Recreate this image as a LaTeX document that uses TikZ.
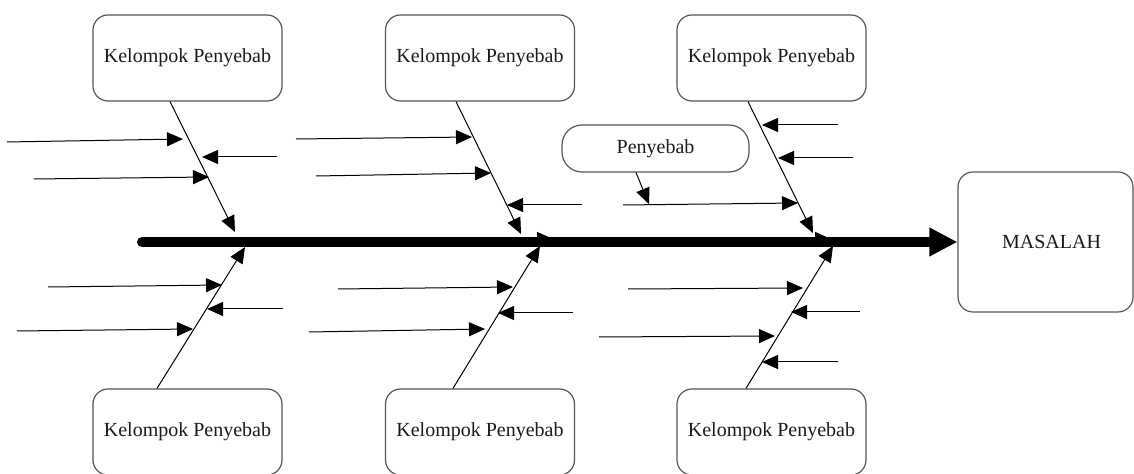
\documentclass[tikz,border=0pt]{standalone}
\usepackage{fontspec}
\setmainfont{Liberation Serif}
\usetikzlibrary{arrows.meta,calc}
\definecolor{boxgray}{HTML}{555555}
\definecolor{textgray}{HTML}{1A1A1A}
\begin{document}
\begin{tikzpicture}[x=0.5pt,y=-0.5pt,
  box/.style={draw=boxgray, line width=0.6pt, rounded corners=7.5pt, minimum width=94.5pt, minimum height=43pt, inner sep=0pt, font=\fontsize{10}{12}\selectfont, text=textgray},
  bone/.style={line width=0.5pt, -{Triangle[length=8pt,width=7pt]}},
  arr/.style={line width=0.5pt, -{Triangle[length=8pt,width=7pt]}},
  spine/.style={line width=5pt, line cap=round, -{Triangle[length=14pt,width=13.5pt]}}]
\useasboundingbox (0,0) rectangle (1134,474);

% boxes
\node[box] (k1) at (187.5,58) {Kelompok Penyebab};
\node[box] (k2) at (480,58) {Kelompok Penyebab};
\node[box] (k3) at (771.5,58) {Kelompok Penyebab};
\node[box] (k4) at (187.5,432) {Kelompok Penyebab};
\node[box] (k5) at (480,432) {Kelompok Penyebab};
\node[box] (k6) at (771.5,432) {Kelompok Penyebab};
\node[box, minimum width=87.5pt, minimum height=70pt] (mas) at (1045.5,242) {\hspace*{6pt}MASALAH};
\node[box, minimum width=93.5pt, minimum height=23.5pt, rounded corners=10pt] (pen) at (655.5,148.5) {Penyebab};

% spine tips
\coordinate (s1) at (235,232);
\coordinate (s2) at (521,234);
\coordinate (s3) at (813,233);
\coordinate (s4) at (245,247);
\coordinate (s5) at (540,246);
\coordinate (s6) at (833,246);
\coordinate (spL) at (142,242);

% small arrowheads riding on the spine
\draw[arr] (520,239) -- (553,239);
\draw[arr] (800,239) -- (831,239);

% spine
\draw[spine] (spL) -- (mas.west);

% bones
\draw[bone] ($(k1.south)+(-17.5,0)$) -- (s1);
\draw[bone] ($(k2.south)+(-24,0)$) -- (s2);
\draw[bone] ($(k3.south)+(-23.5,0)$) -- (s3);
\draw[bone] ($(k4.north)+(-30.5,0)$) -- (s4);
\draw[bone] ($(k5.north)+(-27,0)$) -- (s5);
\draw[bone] ($(k6.north)+(-25.5,0)$) -- (s6);

% side arrows, top bone 1
\draw[arr] (7,142) -- (183,139);
\draw[arr] (277,157) -- (202,157);
\draw[arr] (34,179) -- (209,177);
% top bone 2
\draw[arr] (296,139) -- (472,137);
\draw[arr] (316,176) -- (491,173);
\draw[arr] (582,205) -- (507,205);
% top bone 3
\draw[arr] (838,125) -- (762,125);
\draw[arr] (853,158) -- (778,158);
\coordinate (pl) at (623,205);
\coordinate (pt) at (649,204.2);
\draw[arr] (pl) -- (798,203);
\draw[arr] ($(pen.south)+(-19.5,0)$) -- (pt);
% bottom bone 1
\draw[arr] (48,287) -- (222,285);
\draw[arr] (283,309) -- (207,309);
\draw[arr] (17,331) -- (193,329);
% bottom bone 2
\draw[arr] (338,289) -- (513,287);
\draw[arr] (573,313) -- (498,313);
\draw[arr] (309,332) -- (485,329);
% bottom bone 3
\draw[arr] (628,289) -- (803,288);
\draw[arr] (860,312) -- (791,312);
\draw[arr] (599,337) -- (775,336);
\draw[arr] (838,362) -- (762,362);
\end{tikzpicture}
\end{document}
